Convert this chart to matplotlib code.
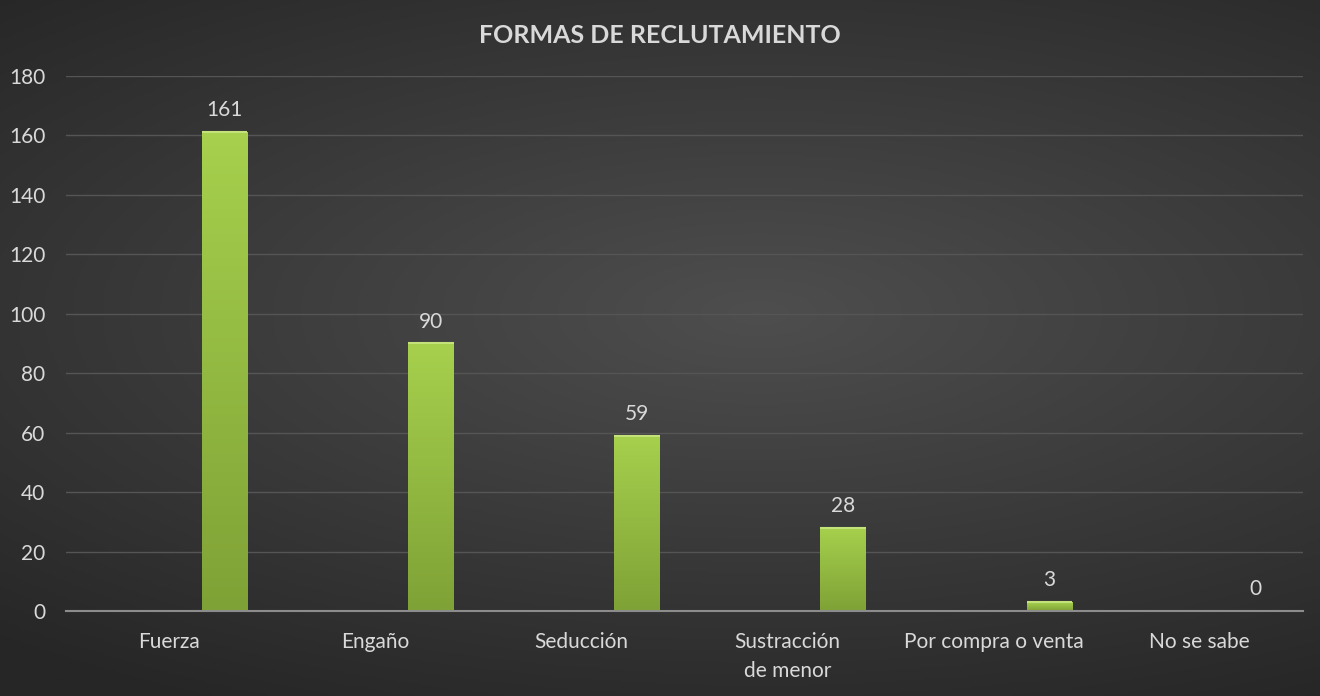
import numpy as np
import matplotlib
matplotlib.use("Agg")
import matplotlib.pyplot as plt

# Data
categorias = ["Fuerza", "Engaño", "Seducción", "Sustracción\nde menor",
              "Por compra o venta", "No se sabe"]
valores = [161, 90, 59, 28, 3, 0]
yticks = list(range(0, 181, 20))

plt.rcParams["font.family"] = ["Lato", "DejaVu Sans"]
txt = "#d9d9d9"

fig = plt.figure(figsize=(13.2, 6.96), dpi=100)

# radial gradient background
bg = fig.add_axes([0, 0, 1, 1], zorder=0)
yy, xx = np.mgrid[-1:1:400j, -1:1:700j]
r = np.sqrt(((xx - 0.15) * 0.75) ** 2 + (yy + 0.1) ** 2)
bg.imshow(r, cmap=matplotlib.colors.LinearSegmentedColormap.from_list(
    "bg", ["#4e4e4e", "#3a3a3a", "#262626"]), vmin=0, vmax=1.3,
    aspect="auto", extent=[0, 1, 0, 1])
bg.axis("off")

ax = fig.add_axes([0.05, 0.122, 0.937, 0.769], zorder=1)
ax.patch.set_alpha(0)

x = np.arange(len(categorias))
bars = ax.bar(x + 0.27, valores, width=0.22, color="#9cc843", zorder=3)

# vertical gradient fill on bars
grad = np.linspace(0, 1, 100).reshape(-1, 1)
gcmap = matplotlib.colors.LinearSegmentedColormap.from_list(
    "g", ["#7fa236", "#a6d04d"])
for b in bars:
    h = b.get_height()
    if h <= 0:
        continue
    ax.imshow(grad, cmap=gcmap, aspect="auto", origin="lower", zorder=3,
              extent=[b.get_x(), b.get_x() + b.get_width(), 0, h])
    ax.plot([b.get_x(), b.get_x() + b.get_width()], [h, h],
            color="#c4e27a", lw=1.5, zorder=4, solid_capstyle="butt")
    ax.text(b.get_x() + b.get_width() / 2, h + 4, str(int(h)),
            ha="center", va="bottom", color=txt, fontsize=15)
for b in bars:
    if b.get_height() <= 0:
        ax.text(b.get_x() + b.get_width() / 2, 4, "0",
                ha="center", va="bottom", color=txt, fontsize=15)

ax.set_xlim(-0.5, len(categorias) - 0.5)
ax.set_ylim(0, 180)
ax.set_yticks(yticks)
ax.set_xticks(x)
ax.set_xticklabels(categorias, color=txt, fontsize=15, linespacing=1.55)
ax.tick_params(axis="y", colors=txt, labelsize=15, length=0, pad=15)
ax.tick_params(axis="x", length=0, pad=15)
ax.yaxis.grid(True, color="#555555", lw=1, zorder=0)
ax.set_axisbelow(True)
for s in ["top", "right", "left"]:
    ax.spines[s].set_visible(False)
ax.spines["bottom"].set_color("#8c8c8c")
ax.spines["bottom"].set_linewidth(1.5)
ax.spines["bottom"].set_zorder(5)

fig.text(0.5, 0.949, "FORMAS DE RECLUTAMIENTO", ha="center", va="center",
         color=txt, fontsize=18, fontweight="bold")

fig.savefig("out.png", dpi=100)
